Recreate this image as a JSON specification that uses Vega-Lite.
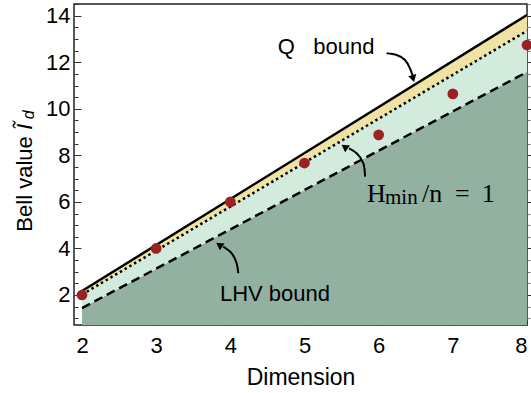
{
  "$schema": "https://vega.github.io/schema/vega-lite/v6.json",
  "autosize": "none",
  "width": 453,
  "height": 321,
  "padding": {"left": 74, "top": 4, "right": 4, "bottom": 68},
  "background": "white",
  "config": {
    "view": {"stroke": "#222222", "strokeWidth": 1.5},
    "font": "Liberation Sans",
    "axis": {"domain": false, "grid": false, "labelFont": "Liberation Sans", "titleFont": "Liberation Sans", "labelColor": "black", "titleColor": "black", "tickColor": "#333333", "labelFontSize": 22, "titleFontSize": 23, "titleFontWeight": "normal"}
  },
  "datasets": {
    "bounds": [
      {"d": 2, "lhv": 1.44, "hmin": 2.02, "q": 2.17},
      {"d": 8, "lhv": 11.58, "hmin": 13.35, "q": 14.03}
    ],
    "bell": [
      {"d": 2, "value": 2.0},
      {"d": 3, "value": 4.0},
      {"d": 4, "value": 6.0},
      {"d": 5, "value": 7.67},
      {"d": 6, "value": 8.88},
      {"d": 7, "value": 10.64},
      {"d": 8, "value": 12.74}
    ],
    "arrows": [
      {"name": "Q", "i": 0, "x": 6.108, "y": 12.385},
      {"name": "Q", "i": 1, "x": 6.243, "y": 12.312},
      {"name": "Q", "i": 2, "x": 6.355, "y": 12.097},
      {"name": "Q", "i": 3, "x": 6.422, "y": 11.74},
      {"name": "Q", "i": 4, "x": 6.459, "y": 11.42},
      {"name": "H", "i": 0, "x": 5.816, "y": 7.085},
      {"name": "H", "i": 1, "x": 5.793, "y": 7.66},
      {"name": "H", "i": 2, "x": 5.703, "y": 8.09},
      {"name": "H", "i": 3, "x": 5.6, "y": 8.3},
      {"name": "L", "i": 0, "x": 4.107, "y": 2.935},
      {"name": "L", "i": 1, "x": 4.085, "y": 3.365},
      {"name": "L", "i": 2, "x": 4.018, "y": 3.79},
      {"name": "L", "i": 3, "x": 3.905, "y": 4.077}
    ],
    "heads": [
      {"name": "Q", "x": 6.465, "y": 11.3},
      {"name": "H", "x": 5.54, "y": 8.37},
      {"name": "L", "x": 3.85, "y": 4.16}
    ]
  },
  "layer": [
    {
      "data": {"name": "bounds"},
      "mark": {"type": "area", "color": "#93b1a0", "clip": true},
      "encoding": {
        "x": {"field": "d", "type": "quantitative", "scale": {"domain": [1.892, 8.0], "nice": false, "zero": false},
              "axis": {"values": [2, 3, 4, 5, 6, 7, 8], "title": "Dimension", "tickSize": -5, "labelPadding": 15, "titlePadding": 10, "tickWidth": 1}},
        "y": {"field": "lhv", "type": "quantitative", "scale": {"domain": [0.711, 14.503], "nice": false, "zero": false},
              "axis": {"values": [2, 4, 6, 8, 10, 12, 14], "title": null, "tickSize": -7, "labelPadding": 11, "tickWidth": 1}},
        "y2": {"datum": 0.711}
      }
    },
    {
      "data": {"name": "bounds"},
      "mark": {"type": "area", "color": "#d3ebdc", "clip": true},
      "encoding": {
        "x": {"field": "d", "type": "quantitative", "axis": null},
        "y": {"field": "lhv", "type": "quantitative", "axis": null},
        "y2": {"field": "hmin"}
      }
    },
    {
      "data": {"name": "bounds"},
      "mark": {"type": "area", "color": "#eee3a5", "clip": true},
      "encoding": {
        "x": {"field": "d", "type": "quantitative", "axis": null},
        "y": {"field": "hmin", "type": "quantitative", "axis": null},
        "y2": {"field": "q"}
      }
    },
    {
      "data": {"name": "bounds"},
      "mark": {"type": "line", "color": "black", "strokeWidth": 2.5, "strokeDash": [9, 5], "clip": true},
      "encoding": {
        "x": {"field": "d", "type": "quantitative", "axis": null},
        "y": {"field": "lhv", "type": "quantitative",
              "axis": {"orient": "left", "values": [1, 1.5, 2.5, 3, 3.5, 4.5, 5, 5.5, 6.5, 7, 7.5, 8.5, 9, 9.5, 10.5, 11, 11.5, 12.5, 13, 13.5, 14.5], "labels": false, "title": null, "tickSize": -4, "tickWidth": 1}}
      }
    },
    {
      "data": {"name": "bounds"},
      "mark": {"type": "line", "color": "black", "strokeWidth": 2.5, "strokeDash": [2.5, 3], "clip": true},
      "encoding": {
        "x": {"field": "d", "type": "quantitative", "axis": null},
        "y": {"field": "hmin", "type": "quantitative",
              "axis": {"orient": "right", "values": [2, 4, 6, 8, 10, 12, 14], "labels": false, "title": null, "tickSize": 5, "tickWidth": 1}}
      }
    },
    {
      "data": {"name": "bounds"},
      "mark": {"type": "line", "color": "black", "strokeWidth": 2.5, "clip": true},
      "encoding": {
        "x": {"field": "d", "type": "quantitative", "axis": null},
        "y": {"field": "q", "type": "quantitative",
              "axis": {"orient": "right", "values": [1, 1.5, 2.5, 3, 3.5, 4.5, 5, 5.5, 6.5, 7, 7.5, 8.5, 9, 9.5, 10.5, 11, 11.5, 12.5, 13, 13.5, 14.5], "labels": false, "title": null, "tickSize": 3, "tickWidth": 1, "tickColor": "#777777"}}
      }
    },
    {
      "data": {"name": "bell"},
      "mark": {"type": "circle", "color": "#9b2222", "opacity": 1, "size": 115},
      "encoding": {
        "x": {"field": "d", "type": "quantitative", "axis": null},
        "y": {"field": "value", "type": "quantitative", "axis": null}
      }
    },
    {
      "data": {"name": "arrows"},
      "mark": {"type": "line", "color": "black", "strokeWidth": 2, "interpolate": "natural"},
      "encoding": {
        "x": {"field": "x", "type": "quantitative", "axis": null},
        "y": {"field": "y", "type": "quantitative", "axis": null},
        "detail": {"field": "name"},
        "order": {"field": "i"}
      }
    },
    {
      "data": {"name": "heads"},
      "transform": [{"filter": "datum.name === 'Q'"}],
      "mark": {"type": "point", "shape": "triangle-down", "filled": true, "color": "black", "opacity": 1, "size": 70, "angle": -15},
      "encoding": {
        "x": {"field": "x", "type": "quantitative", "axis": null},
        "y": {"field": "y", "type": "quantitative", "axis": null}
      }
    },
    {
      "data": {"name": "heads"},
      "transform": [{"filter": "datum.name !== 'Q'"}],
      "mark": {"type": "point", "shape": "triangle-up", "filled": true, "color": "black", "opacity": 1, "size": 70, "angle": -55},
      "encoding": {
        "x": {"field": "x", "type": "quantitative", "axis": null},
        "y": {"field": "y", "type": "quantitative", "axis": null}
      }
    },
    {
      "data": {"values": [
        {"label": "Q\u00a0\u00a0\u00a0bound", "x": 4.64, "y": 12.34},
        {"label": "LHV bound", "x": 3.86, "y": 1.73}
      ]},
      "mark": {"type": "text", "align": "left", "baseline": "alphabetic", "font": "Liberation Sans", "fontSize": 22, "color": "black"},
      "encoding": {
        "x": {"field": "x", "type": "quantitative", "axis": null},
        "y": {"field": "y", "type": "quantitative", "axis": null},
        "text": {"field": "label"}
      }
    },
    {
      "data": {"values": [
        {"label": "H", "x": 5.843, "y": 6.01},
        {"label": "/n", "x": 6.584, "y": 6.01},
        {"label": "=", "x": 7.03, "y": 6.01},
        {"label": "1", "x": 7.39, "y": 6.01}
      ]},
      "mark": {"type": "text", "align": "left", "baseline": "alphabetic", "font": "Liberation Serif", "fontSize": 26, "color": "black"},
      "encoding": {
        "x": {"field": "x", "type": "quantitative", "axis": null},
        "y": {"field": "y", "type": "quantitative", "axis": null},
        "text": {"field": "label"}
      }
    },
    {
      "data": {"values": [
        {"label": "min", "x": 6.085, "y": 5.91}
      ]},
      "mark": {"type": "text", "align": "left", "baseline": "alphabetic", "font": "Liberation Serif", "fontSize": 21, "color": "black"},
      "encoding": {
        "x": {"field": "x", "type": "quantitative", "axis": null},
        "y": {"field": "y", "type": "quantitative", "axis": null},
        "text": {"field": "label"}
      }
    },
    {
      "data": {"values": [
        {"label": "Bell value", "x": 1.322, "y": 4.722}
      ]},
      "mark": {"type": "text", "align": "left", "baseline": "alphabetic", "angle": 270, "font": "Liberation Sans", "fontSize": 22, "color": "black"},
      "encoding": {
        "x": {"field": "x", "type": "quantitative", "axis": null},
        "y": {"field": "y", "type": "quantitative", "axis": null},
        "text": {"field": "label"}
      }
    },
    {
      "data": {"values": [
        {"label": "Ĩ", "x": 1.322, "y": 9.1}
      ]},
      "mark": {"type": "text", "align": "left", "baseline": "alphabetic", "angle": 270, "font": "Liberation Sans", "fontStyle": "italic", "fontSize": 22, "color": "black"},
      "encoding": {
        "x": {"field": "x", "type": "quantitative", "axis": null},
        "y": {"field": "y", "type": "quantitative", "axis": null},
        "text": {"field": "label"}
      }
    },
    {
      "data": {"values": [
        {"label": "d", "x": 1.352, "y": 9.55}
      ]},
      "mark": {"type": "text", "align": "left", "baseline": "alphabetic", "angle": 270, "font": "Liberation Sans", "fontStyle": "italic", "fontSize": 16, "color": "black"},
      "encoding": {
        "x": {"field": "x", "type": "quantitative", "axis": null},
        "y": {"field": "y", "type": "quantitative", "axis": null},
        "text": {"field": "label"}
      }
    }
  ],
  "resolve": {"axis": {"y": "independent", "x": "independent"}}
}
